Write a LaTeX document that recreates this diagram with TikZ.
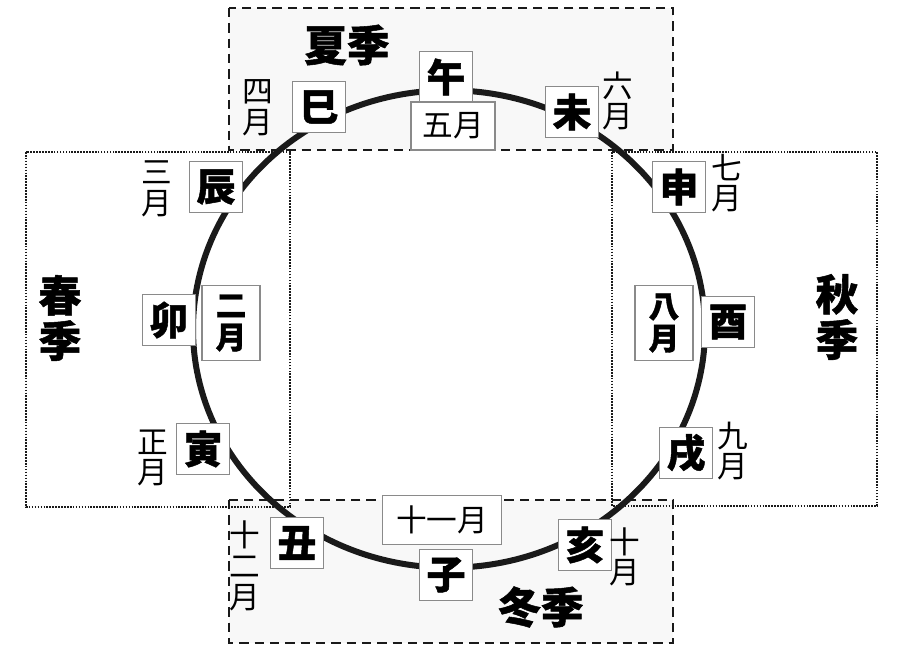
\documentclass[tikz,border=0pt]{standalone}
\usepackage{fontspec}
\usepackage{xcolor}
\usepackage{tikz}
\usetikzlibrary{positioning}
\newfontfamily\cjk{Noto Sans CJK JP}
\newfontfamily\cjkb[FakeBold=1.2]{Noto Sans CJK JP}
\definecolor{kgray}{HTML}{F8F8F8}
\definecolor{kline}{HTML}{1A1A1A}
\definecolor{kedge}{HTML}{8A8A8A}
\tikzset{
  zhi/.style={draw=kedge, fill=white, line width=0.8pt, inner sep=0pt,
    minimum width=40pt, minimum height=38pt,
    font=\cjkb\bfseries\fontsize{29}{29}\selectfont},
  yuebox/.style={draw=kedge, fill=white, line width=0.8pt, inner sep=0pt,
    font=\cjk\fontsize{23}{23}\selectfont},
  yue/.style={inner sep=0pt, align=center, font=\cjk\fontsize{23}{23}\selectfont},
  ji/.style={inner sep=0pt, align=center, font=\cjkb\bfseries\fontsize{32}{34}\selectfont},
  dashbox/.style={draw=kline, fill=kgray, line width=1.5pt, dash pattern=on 7pt off 4.5pt},
  dotbox/.style={draw=kline, line width=1.2pt, dash pattern=on 1.2pt off 1pt}
}

\begin{document}
\begin{tikzpicture}[x=0.75pt, y=-0.75pt]
\useasboundingbox[fill=white] (0,0) rectangle (914,663);
% season frames
\path[dashbox] (229,8) rectangle (673,150);
\path[dashbox] (229,500) rectangle (673,643);
\path[dotbox] (26,152) rectangle (290,507);
\path[dotbox] (612,152) rectangle (877,506);
% the ring
\draw[kline, line width=4.5pt] (449,329) ellipse [x radius=192pt, y radius=179pt];
% seasons
\node[ji] (xia) at (347,45) {夏季};
\node[ji] (chun) at (60,318) {春\\季};
\node[ji] (qiu) at (837,317) {秋\\季};
\node[ji] (dong) at (541,607) {冬季};
% branches
\node[zhi] (wu) at (446,77) {午};
\node[zhi] (si) at (319,107) {巳};
\node[zhi] (wei) at (572,112) {未};
\node[zhi] (chen) at (216,187) {辰};
\node[zhi] (mao) at (169,320) {卯};
\node[zhi] (yin) at (203,449) {寅};
\node[zhi] (shen) at (679,187) {申};
\node[zhi] (you) at (728,322) {酉};
\node[zhi] (xu) at (686,453) {戌};
\node[zhi] (chou) at (297,543) {丑};
\node[zhi] (zi) at (446,575) {子};
\node[zhi] (hai) at (585,545) {亥};
% months
\node[yuebox, minimum width=63pt, minimum height=36pt] (m5) at (453,126) {五月};
\node[yuebox, minimum width=89pt, minimum height=37pt] (m11) at (442,520) {十一月};
\node[zhi, minimum width=43.5pt, minimum height=56pt, align=center,
  font=\cjkb\bfseries\fontsize{23}{24}\selectfont] (m2) at (231,323) {二\\月};
\node[zhi, minimum width=43.5pt, minimum height=56pt, align=center,
  font=\cjkb\bfseries\fontsize{23}{24}\selectfont] (m8) at (664,323) {八\\月};
\node[yue] (m4) at (258,108) {四\\月};
\node[yue] (m6) at (618,101) {六\\月};
\node[yue] (m3) at (157,189) {三\\月};
\node[yue] (m1) at (153,458) {正\\月};
\node[yue] (m7) at (727,183) {七\\月};
\node[yue] (m9) at (733,451) {九\\月};
\node[yue] (m10) at (625,557) {十\\月};
\node[yue] (m12) at (245,566) {十\\二\\月};
\end{tikzpicture}
\end{document}
